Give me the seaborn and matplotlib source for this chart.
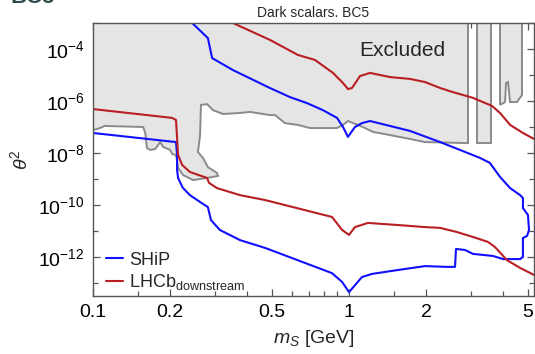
import numpy as np
import pandas as pd
import matplotlib
matplotlib.use("Agg")
import matplotlib.pyplot as plt
import seaborn as sns
from matplotlib.ticker import FixedLocator, NullFormatter


# SHiP sensitivity contour (one closed-ish path), mS in GeV, log10(theta^2)
ship_m = [0.1, 0.211, 0.213, 0.213, 0.215, 0.224, 0.239, 0.269, 0.281, 0.289, 0.313,
          0.375, 0.470, 0.858, 0.94, 1.0, 1.124, 1.23, 1.553, 1.98, 2.41, 2.595,
          2.618, 2.84, 3.05, 3.65, 4.0, 4.66, 4.78, 4.78, 4.96, 5.05, 5.0, 4.78,
          4.78, 4.66, 4.26, 3.89, 3.55, 3.25, 2.71, 2.27, 1.73, 1.446, 1.208,
          1.124, 1.055, 0.991, 0.9475, 0.898, 0.79, 0.685, 0.588, 0.491, 0.352,
          0.292, 0.281, 0.244]
ship_lt = [-7.23, -7.58, -8.08, -8.65, -8.96, -9.33, -9.62, -9.96, -10.08, -10.58, -10.96,
           -11.35, -11.65, -12.62, -12.96, -13.35, -12.77, -12.65, -12.5, -12.35, -12.38, -12.38,
           -11.69, -11.73, -11.88, -11.96, -12.08, -12.08, -12.0, -11.27, -11.19, -10.96, -10.38, -10.12,
           -9.73, -9.62, -9.35, -8.92, -8.38, -8.19, -7.88, -7.58, -7.15, -6.96, -6.77,
           -6.85, -7.0, -7.38, -7.0, -6.65, -6.35, -6.08, -5.85, -5.5, -4.81,
           -4.35, -3.58, -3.0]

# LHCb downstream: upper and lower branches
lhcb_up_m = [0.352, 0.491, 0.632, 0.736, 0.866, 0.9475, 0.991, 1.027, 1.104, 1.208, 1.446,
             1.73, 1.98, 2.27, 2.53, 3.05, 3.62, 3.89, 4.26, 4.78, 5.28]
lhcb_up_lt = [-3.0, -3.65, -4.23, -4.42, -4.92, -5.31, -5.54, -5.5, -5.04, -4.92, -5.08,
              -5.15, -5.27, -5.5, -5.65, -5.88, -6.19, -6.46, -6.92, -7.23, -7.46]
lhcb_lo_m = [0.1, 0.2036, 0.211, 0.213, 0.215, 0.223, 0.239, 0.279, 0.284, 0.305, 0.375,
             0.47, 0.858, 0.94, 1.0, 1.055, 1.186, 1.553, 1.98, 2.27, 2.64, 3.05, 3.49,
             3.72, 4.14, 4.66, 5.28]
lhcb_lo_lt = [-6.31, -6.65, -6.73, -7.42, -8.08, -8.46, -8.73, -8.96, -9.15, -9.35, -9.62,
              -9.81, -10.46, -10.96, -11.15, -10.85, -10.69, -10.77, -10.85, -10.88, -11.04, -11.23, -11.42,
              -11.62, -12.12, -12.42, -12.69]

# excluded region boundaries
excl_m = [0.1, 0.1, 0.1065, 0.111, 0.157, 0.160, 0.1625, 0.167, 0.175, 0.183, 0.188, 0.200,
          0.204, 0.211, 0.215, 0.225, 0.246, 0.279, 0.308, 0.305, 0.281, 0.269, 0.257,
          0.262, 0.264, 0.279, 0.294, 0.322, 0.375, 0.41, 0.491, 0.514, 0.562, 0.632,
          0.704, 0.898, 0.9475, 0.991, 1.037, 1.084, 1.155, 1.241, 1.446, 1.73, 1.98,
          2.917, 2.917]
excl_lt = [-3.0, -7.12, -7.04, -6.96, -7.0, -7.23, -7.81, -7.88, -7.85, -7.58, -7.77, -7.88,
           -8.04, -8.08, -8.58, -8.85, -9.04, -8.96, -8.88, -8.77, -8.54, -8.19, -7.96,
           -7.31, -6.15, -6.12, -6.35, -6.5, -6.46, -6.42, -6.54, -6.54, -6.85, -6.92,
           -7.04, -7.04, -6.92, -6.77, -6.85, -6.92, -7.04, -7.19, -7.31, -7.46, -7.58,
           -7.62, -3.0]
strip1_m = [3.162, 3.162, 3.586, 3.586]
strip1_lt = [-3.0, -7.62, -7.62, -3.0]
strip2_m = [3.89, 3.89, 4.07, 4.105, 4.18, 4.255, 4.53, 4.74, 4.74]
strip2_lt = [-3.0, -6.15, -6.04, -5.31, -5.27, -6.04, -6.04, -5.77, -3.0]

xticks = [0.1, 0.2, 0.5, 1, 2, 5]
xticklabels = ["0.1", "0.2", "0.5", "1", "2", "5"]
xminor = [0.15, 0.3, 0.4, 0.6, 0.7, 0.8, 0.9, 1.5, 3, 4]
yexp = [-12, -10, -8, -6, -4]

sns.set_theme(style="ticks")
plt.rcParams["font.family"] = ["Liberation Sans", "DejaVu Sans"]
plt.rcParams["mathtext.fontset"] = "custom"
plt.rcParams["mathtext.rm"] = "Liberation Sans"
plt.rcParams["mathtext.it"] = "Liberation Sans:italic"
plt.rcParams["mathtext.bf"] = "Liberation Sans:bold"

BLUE = "#1010ff"
RED = "#b81e22"
GREY = "#e5e5e5"
EDGE = "#8a8a8a"

fig = plt.figure(figsize=(5.35, 3.54), dpi=100)
ax = fig.add_axes([93 / 535, 58 / 354, 441 / 535, 273 / 354])

for mm, ll in [(excl_m, excl_lt), (strip1_m, strip1_lt), (strip2_m, strip2_lt)]:
    ax.fill(mm, 10.0 ** np.array(ll), facecolor=GREY, edgecolor=EDGE, lw=1.4, zorder=1)

ship = pd.DataFrame({"m": ship_m, "t": 10.0 ** np.array(ship_lt)})
up = pd.DataFrame({"m": lhcb_up_m, "t": 10.0 ** np.array(lhcb_up_lt)})
lo = pd.DataFrame({"m": lhcb_lo_m, "t": 10.0 ** np.array(lhcb_lo_lt)})

sns.lineplot(data=ship, x="m", y="t", sort=False, estimator=None, color=BLUE, lw=1.5,
             ax=ax, label="SHiP", zorder=3)
sns.lineplot(data=lo, x="m", y="t", sort=False, estimator=None, color=RED, lw=1.5,
             ax=ax, label=r"LHCb$_{\mathrm{downstream}}$", zorder=3)
sns.lineplot(data=up, x="m", y="t", sort=False, estimator=None, color=RED, lw=1.5,
             ax=ax, legend=False, zorder=3)

ax.set_xscale("log")
ax.set_yscale("log")
ax.set_xlim(0.1, 5.28)
ax.set_ylim(10 ** -13.5, 1e-3)

ax.xaxis.set_major_locator(FixedLocator(xticks))
ax.set_xticklabels(xticklabels)
ax.xaxis.set_minor_locator(FixedLocator(xminor))
ax.xaxis.set_minor_formatter(NullFormatter())
ax.yaxis.set_major_locator(FixedLocator([10.0 ** e for e in yexp]))
ax.set_yticklabels([r"$10^{%d}$" % e for e in yexp])
ax.yaxis.set_minor_locator(FixedLocator([10.0 ** e for e in range(-13, -2, 2)]))
ax.yaxis.set_minor_formatter(NullFormatter())

ax.tick_params(which="both", direction="in", top=True, right=True, color="#555555",
               labelsize=14, labelcolor="black", width=0.9)
ax.tick_params(which="major", length=5, pad=6)
ax.tick_params(which="minor", length=3.5)
for s in ax.spines.values():
    s.set_color("#555555")
    s.set_linewidth(1.0)
    s.set_zorder(4)

ax.set_xlabel(r"$m_S$ [GeV]", fontsize=14, labelpad=5)
ax.set_ylabel(r"$\theta^2$", fontsize=14, labelpad=5)
ax.set_title("Dark scalars. BC5", fontsize=10, pad=4)

ax.text(1.61, 10 ** -4.04, "Excluded", fontsize=15, ha="center", va="center", zorder=5)

leg = ax.legend(loc="lower left", bbox_to_anchor=(0.022, 0.0), frameon=False, fontsize=13,
                handlelength=0.95, handletextpad=0.3, labelspacing=0.2, borderpad=0.2,
                borderaxespad=0)

# heading of the panel, cut off by the top edge as in the source figure
fig.text(10 / 535, 1 - 3 / 354, "BC5", fontsize=16, color="#2e4a4a", fontweight="bold",
         va="baseline", ha="left")

fig.savefig("out.png", dpi=100)
